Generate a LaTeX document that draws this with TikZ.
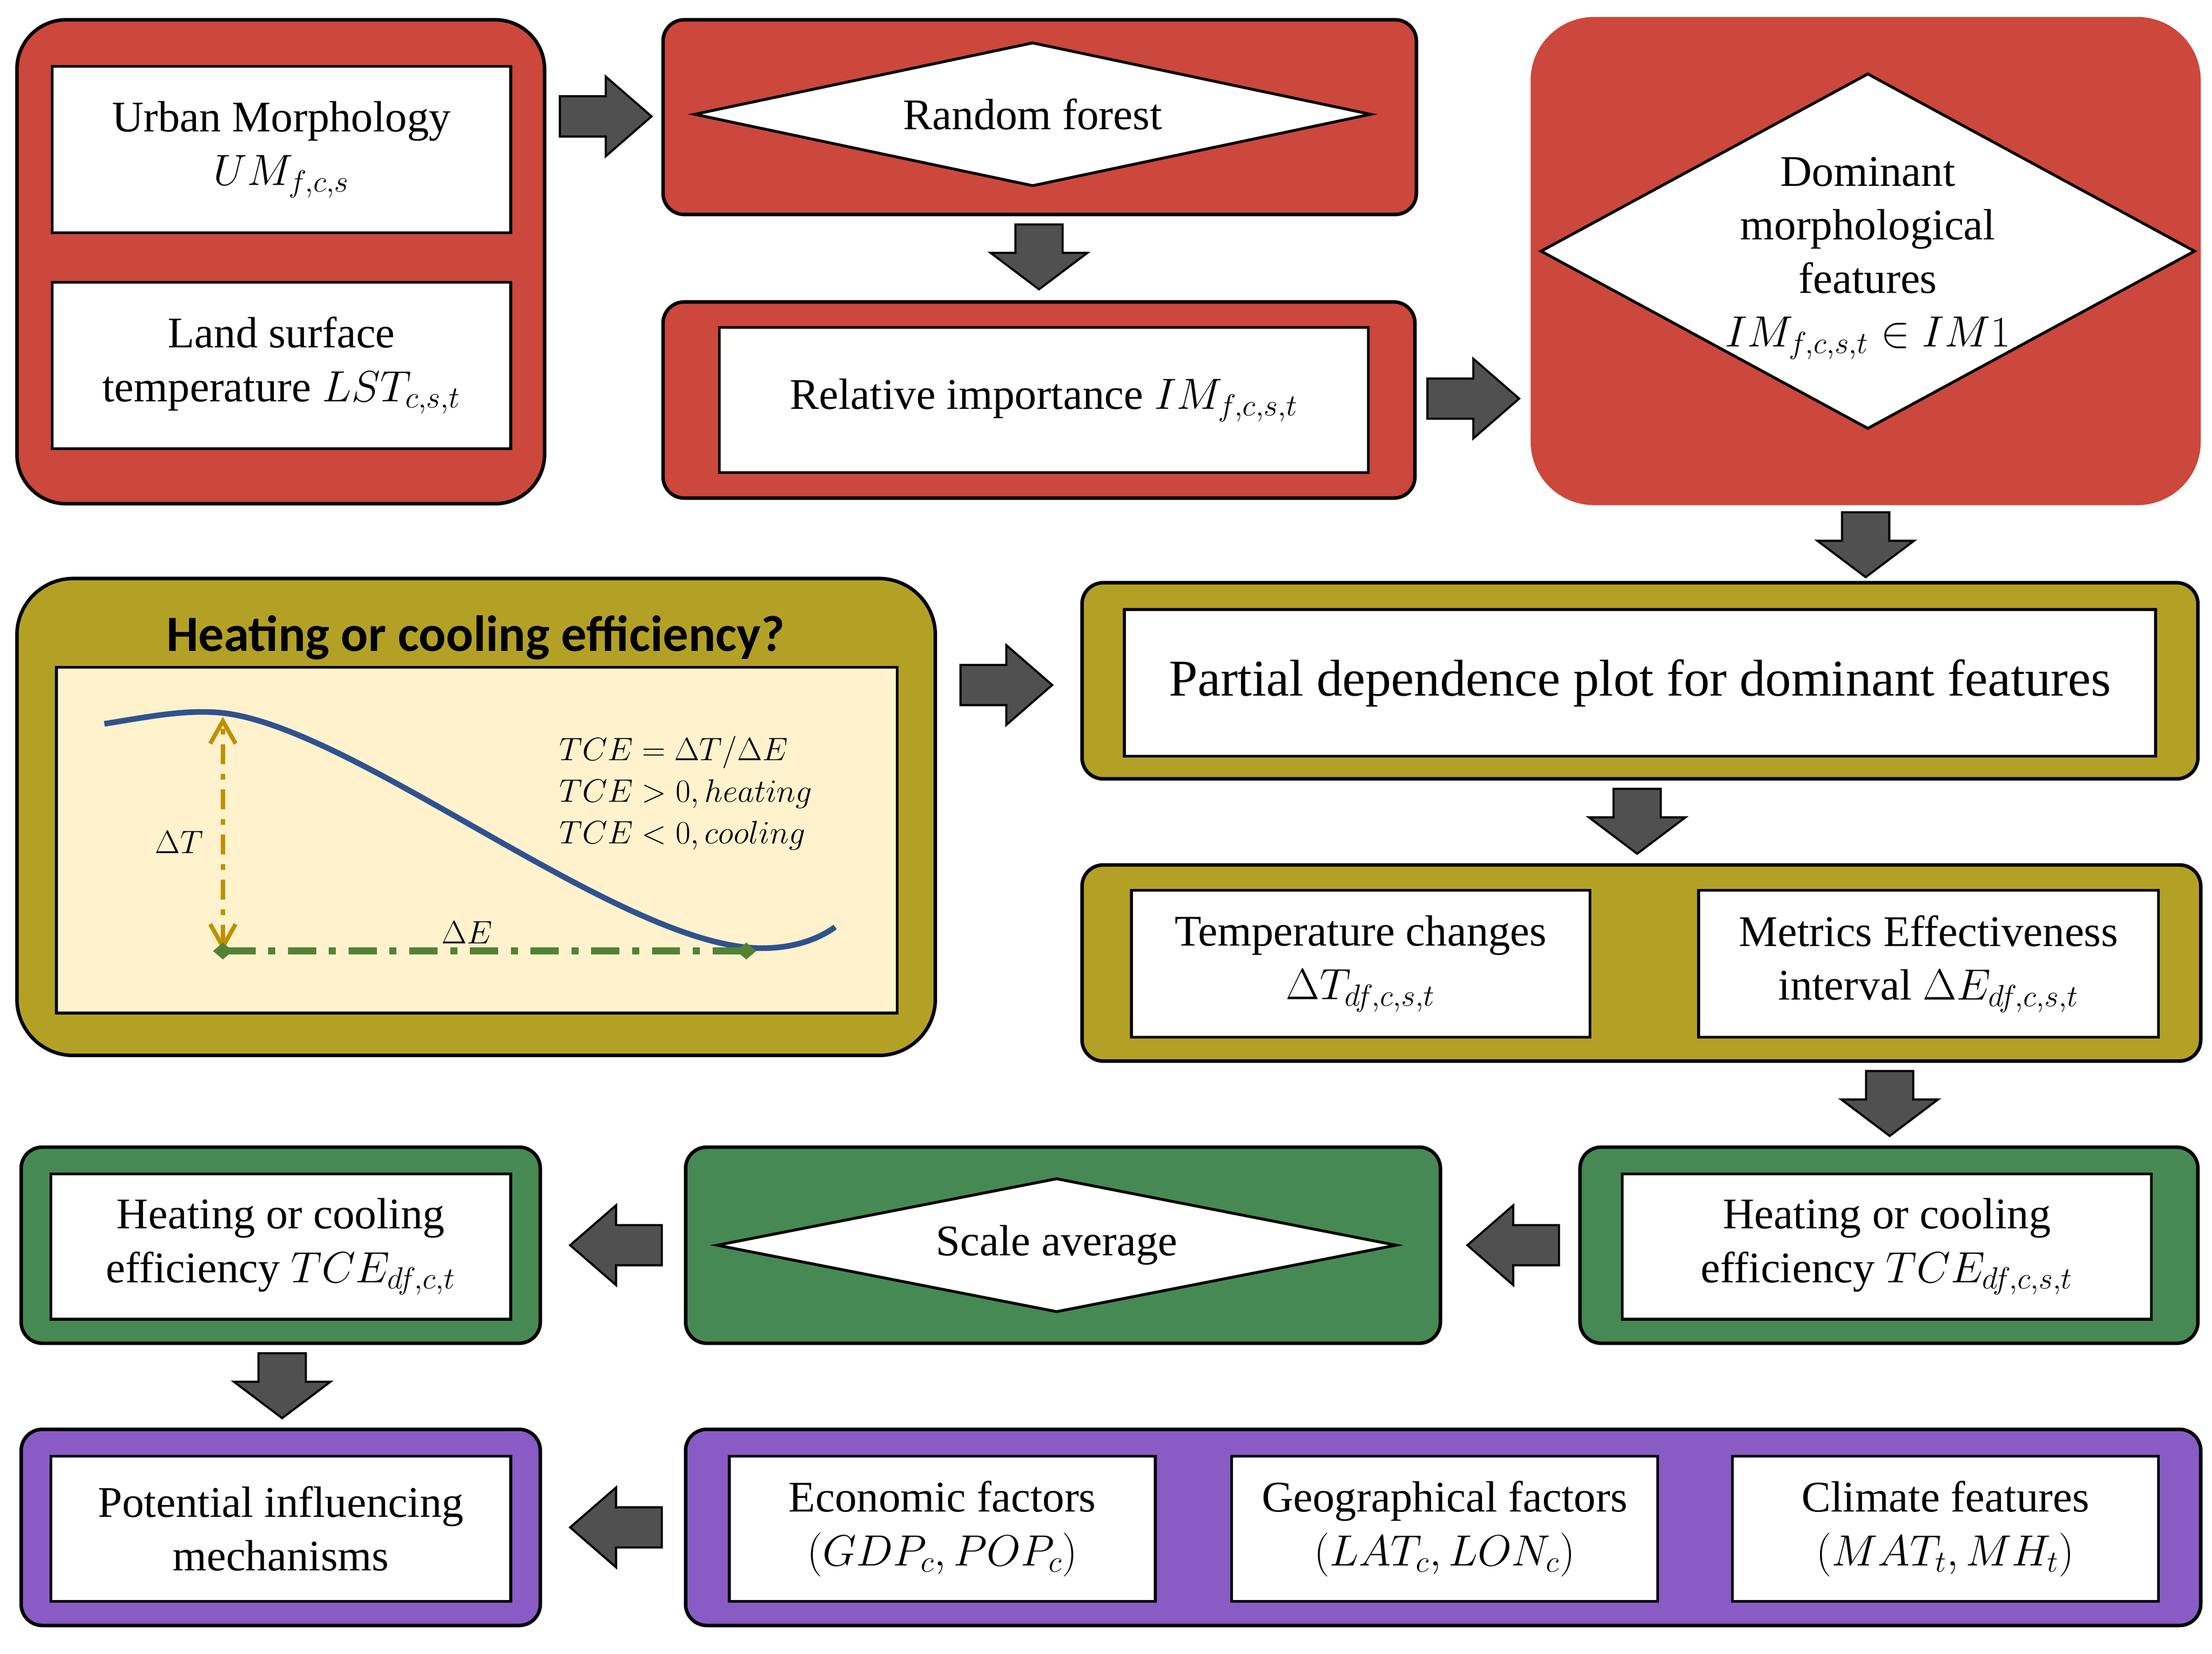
\RequirePackage{fix-cm}
\documentclass[tikz,border=0pt]{standalone}
\usepackage{fontspec}
\setmainfont{Liberation Serif}
\newfontfamily\headfont{Carlito}
\usetikzlibrary{shapes.geometric,shapes.arrows,arrows.meta}

\definecolor{boxred}{HTML}{CC473C}
\definecolor{boxolive}{HTML}{B3A126}
\definecolor{boxgreen}{HTML}{468954}
\definecolor{boxpurple}{HTML}{895BC4}
\definecolor{cream}{HTML}{FFF2CC}
\definecolor{curveblue}{HTML}{2F528F}
\definecolor{dtgold}{HTML}{BF9000}
\definecolor{degreen}{HTML}{548235}
\definecolor{arrgray}{HTML}{505050}

\newcommand\txt{\fontsize{31}{38}\selectfont}
\newcommand\formula{\fontsize{23}{29.5}\selectfont}

\tikzset{
  grp/.style={draw=black, line width=2.5pt, rounded corners=15pt, inner sep=0pt},
  inbox/.style={draw=black, line width=2pt, fill=white, align=center, inner sep=0pt, font=\txt},
  decide/.style={diamond, draw=black, line width=2pt, fill=white, inner sep=0pt, font=\txt},
  barrow/.style={single arrow, draw=black, line width=1.5pt, fill=arrgray, anchor=tip,
    inner xsep=0pt, inner ysep=13.5pt, minimum width=0pt, minimum height=65pt,
    single arrow head extend=14pt, single arrow tip angle=82, single arrow head indent=0pt},
  dnarrow/.style={barrow, shape border rotate=270, inner xsep=16pt, inner ysep=0pt,
    minimum height=46pt, single arrow head extend=17.5pt, single arrow tip angle=106},
  lfarrow/.style={barrow, shape border rotate=180},
}

\begin{document}
\begin{tikzpicture}[x=1pt,y=-1pt]
  \useasboundingbox (0,0) rectangle (1568,1172);

  % first row
  \node[grp, fill=boxred, minimum width=374pt, minimum height=343pt, rounded corners=35pt] (inputs) at (199,185.5) {};
  \node[inbox, minimum width=325pt, minimum height=118pt] (um) at (199.5,106) {Urban Morphology\\$UM_{f,c,s}$};
  \node[inbox, minimum width=325pt, minimum height=118pt] (lst) at (199.5,259) {Land surface\\temperature $LST_{c,s,t}$};

  \node[grp, fill=boxred, minimum width=534pt, minimum height=138pt] (rfgrp) at (737,83) {};
  \node[decide, minimum width=480pt, minimum height=102pt, aspect=4.7] (rf) at (732,81) {Random forest};

  \node[grp, fill=boxred, minimum width=533pt, minimum height=139pt] (imgrp) at (736.5,283.5) {};
  \node[inbox, minimum width=460pt, minimum height=103pt] (im) at (740,283.5) {Relative importance $IM_{f,c,s,t}$};

  \node[grp, draw=none, fill=boxred, minimum width=475pt, minimum height=346pt, rounded corners=45pt] (domgrp) at (1322.5,185) {};
  \node[decide, minimum width=464pt, minimum height=252pt, aspect=1.84] (dom) at (1324,178) {};
  \node[font=\txt, align=center] (domtext) at (1324,183) {Dominant\\morphological\\features\\$IM_{f,c,s,t}\in IM1$};

  \node[barrow] (a1) at (463,82.5) {};
  \node[dnarrow] (a2) at (736.5,206) {};
  \node[barrow] (a3) at (1078,282.5) {};
  \node[dnarrow] (a4) at (1322.5,410) {};

  % second row
  \node[grp, fill=boxolive, minimum width=651pt, minimum height=338pt, rounded corners=40pt] (tcegrp) at (337.5,579) {};
  \node[font=\headfont\bfseries\fontsize{36}{40}\selectfont] (tcehead) at (337,452) {Heating or cooling efficiency?};
  \node[draw=black, line width=2pt, fill=cream, minimum width=596pt, minimum height=245pt] (plot) at (338,595.5) {};
  \coordinate (tpeak) at (158,508);
  \coordinate (tbase) at (158,674);
  \coordinate (ebase) at (529,674);
  \draw[curveblue, line width=4pt] (74,513) .. controls (105,508) and (130,503) .. (155,505)
    .. controls (250,513) and (440,672) .. (540,672) .. controls (560,672) and (578,667) .. (592,657);
  \draw[dtgold, line width=3pt, dash pattern=on 14pt off 7pt on 4pt off 7pt, {Straight Barb[length=16pt,width=18pt]}-{Straight Barb[length=16pt,width=18pt]}] (tbase) -- (tpeak);
  \draw[degreen, line width=5pt, dash pattern=on 20pt off 9pt on 5pt off 9pt, {Diamond[length=14pt,width=12pt]}-{Diamond[length=14pt,width=12pt]}, shorten <=-7pt, shorten >=-7pt] (tbase) -- (ebase);
  \node[font=\formula] (dTlab) at (127,597) {$\Delta T$};
  \node[font=\formula] (dElab) at (331,661) {$\Delta E$};
  \node[font=\formula, align=left, anchor=west] (tcedef) at (393,562) {$TCE=\Delta T/\Delta E$\\$TCE>0,heating$\\$TCE<0,cooling$};

  \node[grp, fill=boxolive, minimum width=791pt, minimum height=139pt] (pdpgrp) at (1162.5,482.5) {};
  \node[inbox, minimum width=731pt, minimum height=104pt, font=\fontsize{36.6}{44}\selectfont] (pdp) at (1162.5,484) {Partial dependence plot for dominant features};

  \node[grp, fill=boxolive, minimum width=793pt, minimum height=139pt] (diffgrp) at (1163.5,682.5) {};
  \node[inbox, minimum width=325pt, minimum height=104pt] (dT) at (964.5,683) {Temperature changes\\$\Delta T_{df,c,s,t}$};
  \node[inbox, minimum width=326pt, minimum height=104pt] (dE) at (1367,683) {Metrics Effectiveness\\interval $\Delta E_{df,c,s,t}$};

  \node[barrow] (a5) at (747,485.5) {};
  \node[dnarrow] (a6) at (1160.5,606) {};
  \node[dnarrow] (a7) at (1339.5,806) {};

  % third row
  \node[grp, fill=boxgreen, minimum width=438pt, minimum height=139pt] (tcesgrp) at (1339,882.5) {};
  \node[inbox, minimum width=375pt, minimum height=103pt] (tces) at (1337.5,883.5) {Heating or cooling\\efficiency $TCE_{df,c,s,t}$};
  \node[grp, fill=boxgreen, minimum width=535pt, minimum height=139pt] (scgrp) at (753.5,882.5) {};
  \node[decide, minimum width=482pt, minimum height=95pt, aspect=5.07] (sc) at (749,882.5) {Scale average};
  \node[grp, fill=boxgreen, minimum width=368pt, minimum height=139pt] (tcecgrp) at (199,882.5) {};
  \node[inbox, minimum width=326pt, minimum height=103pt] (tcec) at (199,883.5) {Heating or cooling\\efficiency $TCE_{df,c,t}$};

  \node[lfarrow] (a8) at (1039,882.5) {};
  \node[lfarrow] (a9) at (403,882.5) {};
  \node[dnarrow] (a10) at (200,1006) {};

  % fourth row
  \node[grp, fill=boxpurple, minimum width=368pt, minimum height=139pt] (mechgrp) at (199,1082.5) {};
  \node[inbox, minimum width=326pt, minimum height=103pt] (mech) at (199,1083.5) {Potential influencing\\mechanisms};
  \node[grp, fill=boxpurple, minimum width=1074pt, minimum height=139pt] (facgrp) at (1023,1082.5) {};
  \node[inbox, minimum width=302pt, minimum height=103pt] (econ) at (668,1083.5) {Economic factors\\$(GDP_c,POP_c)$};
  \node[inbox, minimum width=302pt, minimum height=103pt] (geo) at (1024,1083.5) {Geographical factors\\$(LAT_c,LON_c)$};
  \node[inbox, minimum width=302pt, minimum height=103pt] (clim) at (1379,1083.5) {Climate features\\$(MAT_t,MH_t)$};

  \node[lfarrow] (a11) at (403,1082.5) {};
\end{tikzpicture}
\end{document}
